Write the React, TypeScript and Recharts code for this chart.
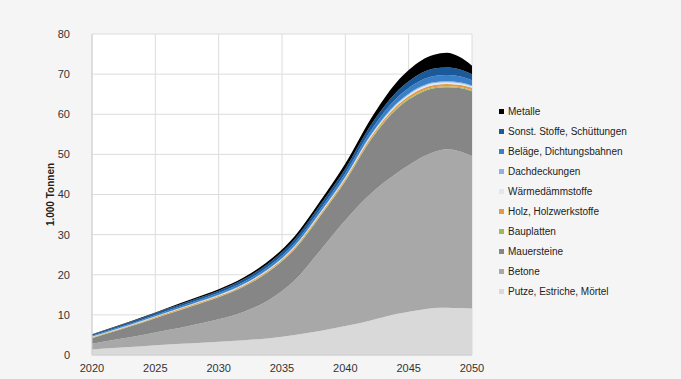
import React from "react";
import { AreaChart, Area, XAxis, YAxis, CartesianGrid } from "recharts";

const years = [2020, 2022, 2024, 2026, 2028, 2030, 2032, 2034, 2036, 2038, 2040, 2042, 2044, 2045, 2046, 2047, 2048, 2049, 2050];
const putze = [1.4, 1.8, 2.2, 2.6, 2.9, 3.3, 3.7, 4.2, 5.0, 6.0, 7.2, 8.6, 10.2, 10.8, 11.3, 11.7, 11.8, 11.7, 11.6];
const betone = [1.4, 2.1, 2.8, 3.6, 4.6, 5.6, 7.1, 9.6, 13.6, 20.0, 26.4, 31.6, 35.0, 36.5, 37.9, 38.9, 39.5, 39.1, 38.0];
const mauersteine = [1.4, 2.2, 3.1, 4.0, 4.78, 5.48, 6.27, 7.06, 7.75, 8.53, 9.7, 13.38, 15.95, 16.35, 16.25, 15.85, 15.45, 15.75, 16.15];
const bauplatten = [0.1, 0.1, 0.1, 0.1, 0.12, 0.12, 0.13, 0.14, 0.15, 0.17, 0.2, 0.22, 0.25, 0.25, 0.25, 0.25, 0.25, 0.25, 0.25];
const holz = [0.15, 0.16, 0.18, 0.2, 0.22, 0.24, 0.26, 0.3, 0.33, 0.37, 0.42, 0.48, 0.55, 0.58, 0.6, 0.6, 0.55, 0.55, 0.6];
const waerme = [0.1, 0.11, 0.12, 0.13, 0.14, 0.15, 0.17, 0.2, 0.23, 0.26, 0.3, 0.34, 0.38, 0.4, 0.42, 0.43, 0.4, 0.38, 0.35];
const dach = [0.05, 0.06, 0.07, 0.08, 0.09, 0.1, 0.11, 0.12, 0.14, 0.16, 0.18, 0.2, 0.22, 0.24, 0.25, 0.25, 0.25, 0.24, 0.22];
const belaege = [0.2, 0.25, 0.3, 0.35, 0.4, 0.45, 0.5, 0.6, 0.7, 0.8, 0.9, 1.05, 1.3, 1.4, 1.5, 1.55, 1.6, 1.5, 1.3];
const sonst = [0.3, 0.37, 0.43, 0.5, 0.55, 0.6, 0.7, 0.8, 0.95, 1.1, 1.2, 1.4, 1.6, 1.7, 1.8, 1.85, 1.85, 1.75, 1.5];
const metalle = [0.1, 0.15, 0.2, 0.24, 0.3, 0.36, 0.46, 0.58, 0.75, 0.91, 1.2, 1.53, 2.35, 2.78, 3.13, 3.42, 3.65, 3.08, 2.13];

const xTicks = [2020, 2025, 2030, 2035, 2040, 2045, 2050];
const yTicks = [0, 10, 20, 30, 40, 50, 60, 70, 80];

const series = [
  { key: "putze", name: "Putze, Estriche, Mörtel", color: "#d9d9d9", values: putze },
  { key: "betone", name: "Betone", color: "#a8a8a8", values: betone },
  { key: "mauersteine", name: "Mauersteine", color: "#868686", values: mauersteine },
  { key: "bauplatten", name: "Bauplatten", color: "#9bbb59", values: bauplatten },
  { key: "holz", name: "Holz, Holzwerkstoffe", color: "#e39a45", values: holz },
  { key: "waerme", name: "Wärmedämmstoffe", color: "#dce8f4", values: waerme },
  { key: "dach", name: "Dachdeckungen", color: "#8db3e2", values: dach },
  { key: "belaege", name: "Beläge, Dichtungsbahnen", color: "#3a80c8", values: belaege },
  { key: "sonst", name: "Sonst. Stoffe, Schüttungen", color: "#1b5a9a", values: sonst },
  { key: "metalle", name: "Metalle", color: "#000000", values: metalle },
];

const data = years.map((y, i) => {
  const row: any = { year: y };
  series.forEach((s) => (row[s.key] = s.values[i]));
  return row;
});

const FONT = "'Liberation Sans', Arial, sans-serif";

export default function App() {
  return (
    <div style={{ position: "absolute", left: 0, top: 0, width: 681, height: 379, background: "#f5f5f5", overflow: "hidden" }}>
      <AreaChart width={681} height={379} data={data} margin={{ top: 34, right: 209, bottom: 0, left: 0 }}>
        <CartesianGrid stroke="#dcdcdc" fill="#ffffff" vertical={true} horizontal={true} />
        <XAxis
          dataKey="year"
          type="number"
          domain={[2020, 2050]}
          ticks={xTicks}
          height={24}
          tickLine={false}
          axisLine={{ stroke: "#cfcfcf" }}
          tick={{ fontSize: 11, fill: "#333", fontFamily: FONT }}
          tickMargin={3}
        />
        <YAxis
          domain={[0, 80]}
          ticks={yTicks}
          width={92}
          tickLine={false}
          axisLine={{ stroke: "#cfcfcf" }}
          tick={{ fontSize: 11, fill: "#333", fontFamily: FONT }}
          tickMargin={16}
          label={{ value: "1.000 Tonnen", angle: -90, position: "insideLeft", offset: 50, style: { fontSize: 10, fontWeight: "bold", fill: "#222", fontFamily: FONT, textAnchor: "middle" } }}
        />
        {series.map((s) => (
          <Area
            key={s.key}
            type="monotone"
            dataKey={s.key}
            name={s.name}
            stackId="1"
            stroke="none"
            fill={s.color}
            fillOpacity={1}
            isAnimationActive={false}
          />
        ))}
      </AreaChart>
      <div style={{ position: "absolute", left: 499, top: 101, fontFamily: FONT, fontSize: 10, color: "#222" }}>
        {[...series].reverse().map((s) => (
          <div key={s.key} style={{ height: 20, display: "flex", alignItems: "center", whiteSpace: "nowrap" }}>
            <span style={{ display: "inline-block", width: 5, height: 5, background: s.color, marginRight: 4 }} />
            <span>{s.name}</span>
          </div>
        ))}
      </div>
    </div>
  );
}
